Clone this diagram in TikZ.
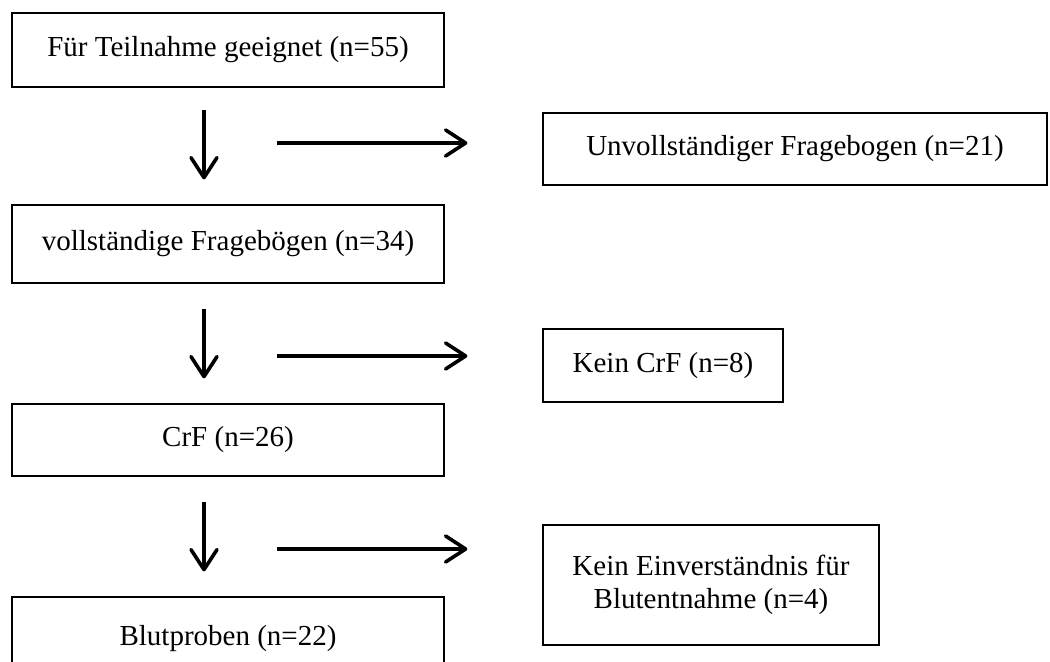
\documentclass[tikz,border=0pt]{standalone}
\usepackage{fontspec}
\setmainfont{Liberation Serif}
\usetikzlibrary{arrows.meta}

\begin{document}
\begin{tikzpicture}[x=0.5pt, y=-0.5pt,
    box/.style={draw, line width=0.6pt, align=center, inner sep=0pt, font=\fontsize{14.5}{16.5}\selectfont},
    flow/.style={line width=1.8pt, -{Straight Barb[length=10pt, width=13pt, round]}}]
                    \useasboundingbox (0,0) rectangle (1050,662);

                    \node[box, minimum width=216pt, minimum height=37pt] (eligible) at (228, 50) {Für Teilnahme geeignet (n=55)};
                    \node[box, minimum width=216pt, minimum height=39pt] (complete) at (228, 244) {vollständige Fragebögen (n=34)};
                    \node[box, minimum width=216pt, minimum height=36pt] (crf) at (228, 440) {CrF (n=26)};
                    \node[box, minimum width=216pt, minimum height=42pt] (blood) at (228, 639) {Blutproben (n=22)};

                    \node[box, minimum width=252pt, minimum height=36pt] (incomplete) at (795, 149) {Unvollständiger Fragebogen (n=21)};
                    \node[box, minimum width=120pt, minimum height=36.5pt] (nocrf) at (663, 365.5) {Kein CrF (n=8)};
                    \node[box, minimum width=168pt, minimum height=60pt] (noconsent) at (711, 585) {Kein Einverständnis für\\Blutentnahme (n=4)};

                    \draw[flow, shorten <=11pt, shorten >=12.5pt] ([xshift=-12pt]eligible.south) -- ([xshift=-12pt]complete.north);
                    \draw[flow, shorten <=12.5pt, shorten >=12.5pt] ([xshift=-12pt]complete.south) -- ([xshift=-12pt]crf.north);
                    \draw[flow, shorten <=12.5pt, shorten >=12.5pt] ([xshift=-12pt]crf.south) -- ([xshift=-12pt]blood.north);

                    \coordinate (out1) at (277, 143);
                    \coordinate (out2) at (277, 356);
                    \coordinate (out3) at (277, 549);
                    \draw[flow, shorten >=37.5pt] (out1) -- (out1 -| incomplete.west);
                    \draw[flow, shorten >=37.5pt] (out2) -- (out2 -| nocrf.west);
                    \draw[flow, shorten >=37.5pt] (out3) -- (out3 -| noconsent.west);
\end{tikzpicture}
\end{document}
